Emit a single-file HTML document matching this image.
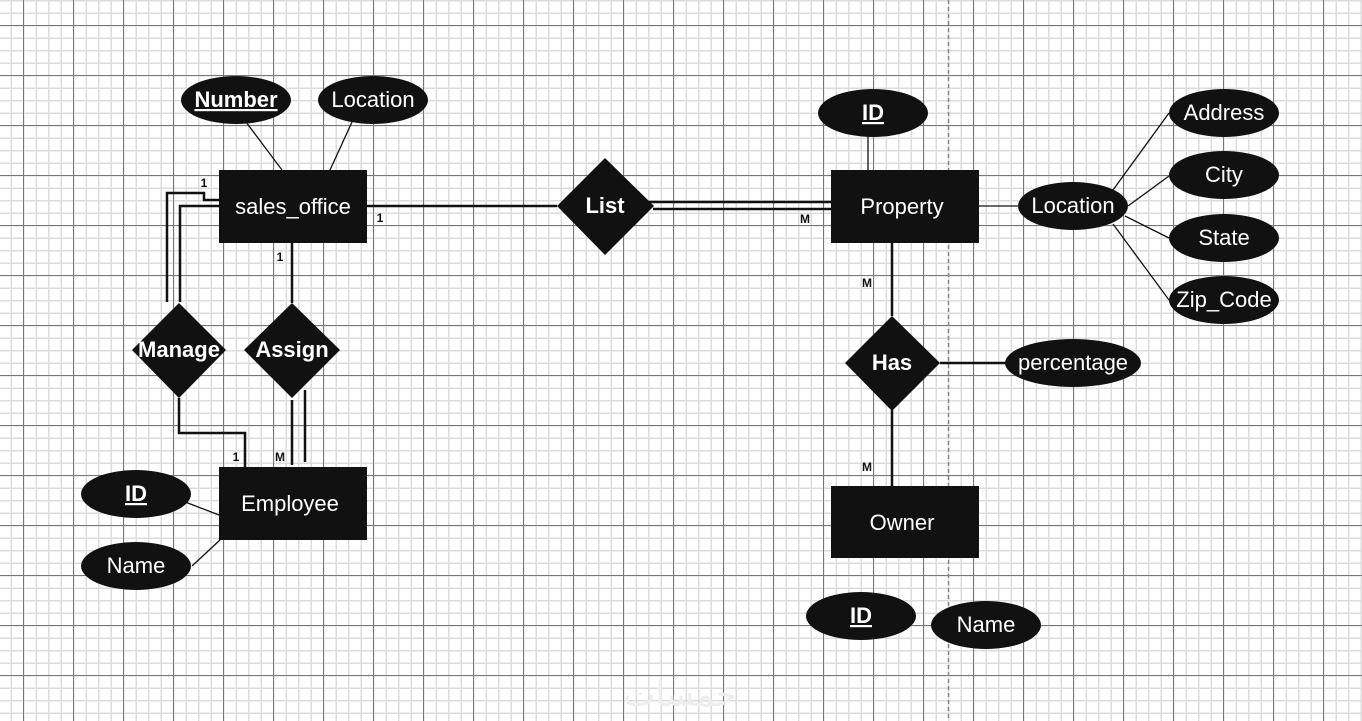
<!DOCTYPE html>
<html><head><meta charset="utf-8"><style>
html,body{margin:0;padding:0;background:#fff;}
svg{display:block;}
text{font-family:"Liberation Sans",Arial,sans-serif;fill:#fff;}
</style></head><body>
<svg width="1362" height="721" viewBox="0 0 1362 721" xmlns="http://www.w3.org/2000/svg">
<defs>
<pattern id="minor" x="10.5" y="0" width="12.5" height="12.5" patternUnits="userSpaceOnUse">
<path d="M0 0.75H12.5M0.75 0V12.5" stroke="#dcdcdc" stroke-width="1.5" fill="none"/>
</pattern>
<pattern id="major" x="23" y="25" width="50" height="50" patternUnits="userSpaceOnUse">
<path d="M0 0.5H50M0.5 0V50" stroke="#777" stroke-width="1" fill="none"/>
</pattern>
</defs>
<rect width="1362" height="721" fill="#fff"/>
<rect width="1362" height="721" fill="url(#minor)"/>
<rect width="1362" height="721" fill="url(#major)"/>
<line x1="948.5" y1="0" x2="948.5" y2="721" stroke="#888" stroke-width="1.5" stroke-dasharray="4,3"/>

<g stroke="#111" fill="none">
<line x1="246" y1="122" x2="282" y2="170" stroke-width="1.3"/>
<line x1="352" y1="122" x2="330" y2="170" stroke-width="1.3"/>
<line x1="367" y1="206" x2="557" y2="206" stroke-width="2.5"/>
<line x1="643" y1="202" x2="831" y2="202" stroke-width="2.5"/>
<line x1="653" y1="209" x2="831" y2="209" stroke-width="2.5"/>
<polyline points="167,302 167,193 204,193 204,200 219,200" stroke-width="2.5"/>
<polyline points="180,302 180,206 219,206" stroke-width="2.5"/>
<polyline points="179,398 179,433 245,433 245,467" stroke-width="2.5"/>
<line x1="292" y1="243" x2="292" y2="303" stroke-width="2.5"/>
<line x1="292" y1="400" x2="292" y2="465" stroke-width="2.5"/>
<line x1="305" y1="390" x2="305" y2="462" stroke-width="2.5"/>
<line x1="180" y1="500" x2="219" y2="515" stroke-width="1.3"/>
<line x1="192" y1="566" x2="220" y2="540" stroke-width="1.3"/>
<line x1="868" y1="136" x2="868" y2="170" stroke-width="1.3"/>
<line x1="979" y1="206" x2="1018" y2="206" stroke-width="1.3"/>
<line x1="892" y1="243" x2="892" y2="316" stroke-width="2.5"/>
<line x1="892" y1="410" x2="892" y2="486" stroke-width="2.5"/>
<line x1="940" y1="363" x2="1006" y2="363" stroke-width="2.5"/>
<line x1="1113" y1="190" x2="1169" y2="113" stroke-width="1.3"/>
<line x1="1128" y1="206" x2="1169" y2="176" stroke-width="1.3"/>
<line x1="1125" y1="216" x2="1169" y2="238" stroke-width="1.3"/>
<line x1="1113" y1="224" x2="1169" y2="300" stroke-width="1.3"/>
</g>

<g fill="#111">
<rect x="219" y="170" width="148" height="73"/>
<rect x="219" y="467" width="148" height="73"/>
<rect x="831" y="170" width="148" height="73"/>
<rect x="831" y="486" width="148" height="72"/>
<polygon points="605,158 654,206 605,255 557,206"/>
<polygon points="179,303 226,350 179,398 132,350"/>
<polygon points="292,303 340,350 292,398 244,350"/>
<polygon points="892,316 940,363 892,411 845,363"/>
<ellipse cx="236" cy="100" rx="55" ry="24"/>
<ellipse cx="373" cy="100" rx="55" ry="24"/>
<ellipse cx="136" cy="494" rx="55" ry="24"/>
<ellipse cx="136" cy="566" rx="55" ry="24"/>
<ellipse cx="873" cy="113" rx="55" ry="24"/>
<ellipse cx="1073" cy="206" rx="55" ry="24"/>
<ellipse cx="1224" cy="113" rx="55" ry="24"/>
<ellipse cx="1224" cy="175" rx="55" ry="24"/>
<ellipse cx="1224" cy="238" rx="55" ry="24"/>
<ellipse cx="1224" cy="300" rx="55" ry="24"/>
<ellipse cx="1073" cy="363" rx="68" ry="24"/>
<ellipse cx="861" cy="616" rx="55" ry="24"/>
<ellipse cx="986" cy="625" rx="55" ry="24"/>
</g>

<g font-size="22" text-anchor="middle">
<text x="293" y="214">sales_office</text>
<text x="290" y="511">Employee</text>
<text x="902" y="214">Property</text>
<text x="902" y="530">Owner</text>
<text x="236" y="107" font-weight="bold" text-decoration="underline">Number</text>
<text x="373" y="107">Location</text>
<text x="136" y="501" font-weight="bold" text-decoration="underline">ID</text>
<text x="136" y="573">Name</text>
<text x="873" y="120" font-weight="bold" text-decoration="underline">ID</text>
<text x="1073" y="213">Location</text>
<text x="1224" y="120">Address</text>
<text x="1224" y="182">City</text>
<text x="1224" y="245">State</text>
<text x="1224" y="307">Zip_Code</text>
<text x="1073" y="370">percentage</text>
<text x="861" y="623" font-weight="bold" text-decoration="underline">ID</text>
<text x="986" y="632">Name</text>
<text x="605" y="213" font-weight="bold">List</text>
<text x="179" y="357" font-weight="bold">Manage</text>
<text x="292" y="357" font-weight="bold">Assign</text>
<text x="892" y="370" font-weight="bold">Has</text>
</g>

<g font-size="12" font-weight="bold" text-anchor="middle">
<text x="204" y="187" style="fill:#111">1</text>
<text x="380" y="222" style="fill:#111">1</text>
<text x="280" y="261" style="fill:#111">1</text>
<text x="236" y="461" style="fill:#111">1</text>
<text x="280" y="461" style="fill:#111">M</text>
<text x="805" y="223" style="fill:#111">M</text>
<text x="867" y="287" style="fill:#111">M</text>
<text x="867" y="471" style="fill:#111">M</text>
</g>
<text x="680" y="706" font-size="34" text-anchor="middle" style="fill:#eee;font-family:'Liberation Sans','DejaVu Sans',sans-serif">خمسات</text>
</svg>
</body></html>
